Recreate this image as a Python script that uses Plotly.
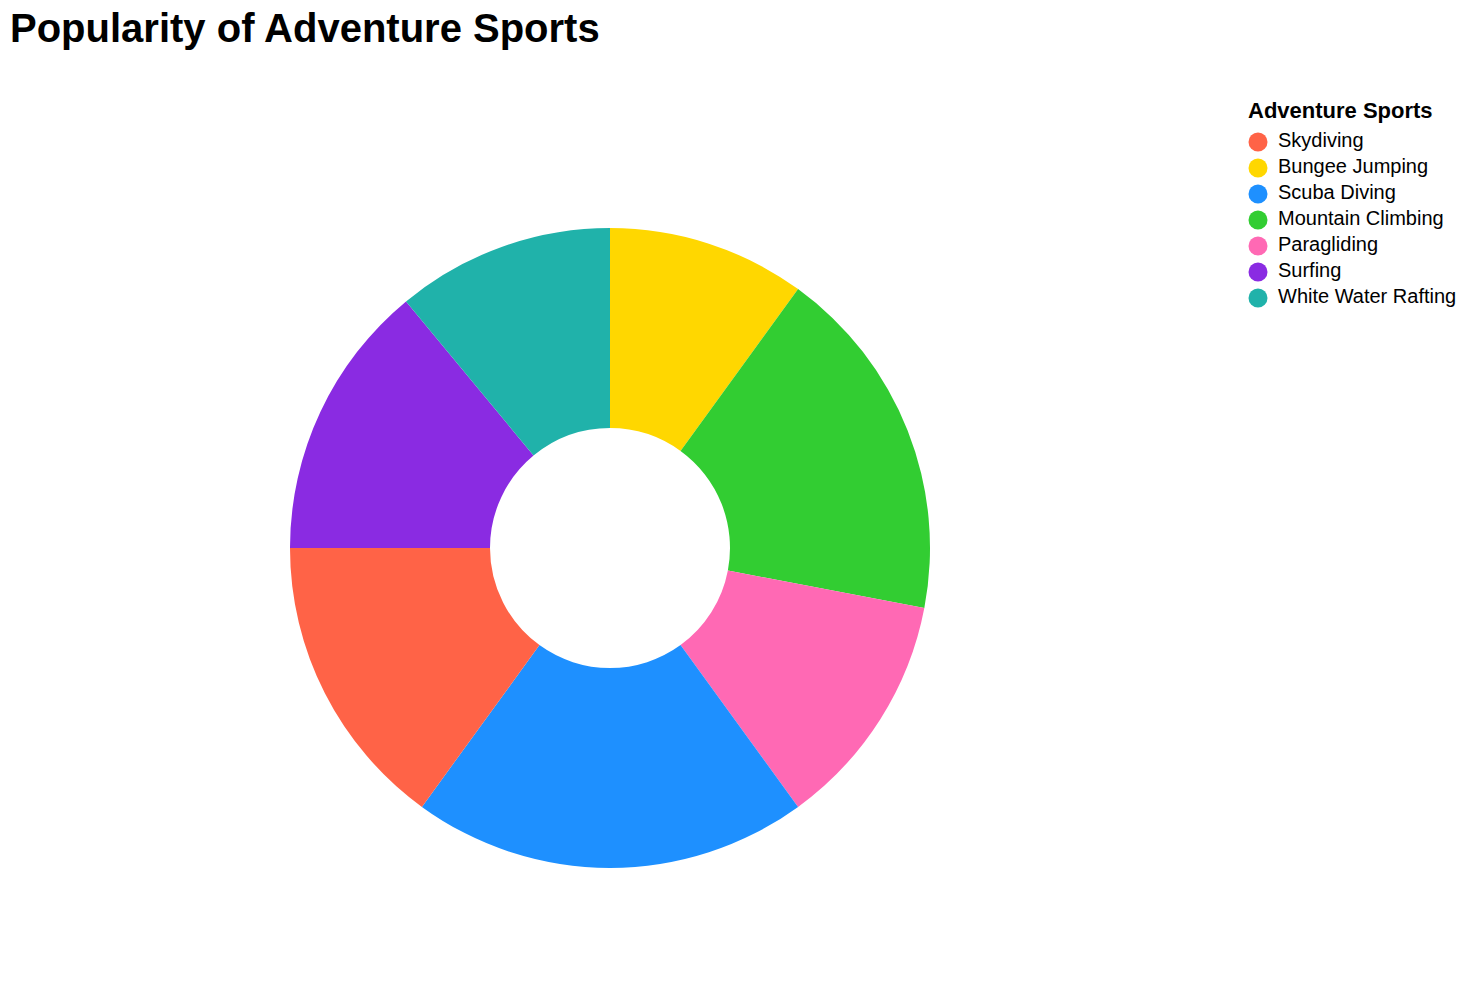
import plotly.graph_objects as go

# Data (legend order)
sports = ["Skydiving", "Bungee Jumping", "Scuba Diving", "Mountain Climbing",
          "Paragliding", "Surfing", "White Water Rafting"]
popularity = [15, 10, 20, 18, 12, 14, 11]
colors = ["#FF6347", "#FFD700", "#1E90FF", "#32CD32", "#FF69B4", "#8A2BE2", "#20B2AA"]

W, H = 1468, 1008
FONT = "Liberation Sans, Arial, Helvetica, sans-serif"

# Slices are stacked in alphabetical order, clockwise from 12 o'clock
order = sorted(range(len(sports)), key=lambda i: sports[i])
pie_labels = [sports[i] for i in order]
pie_values = [popularity[i] for i in order]
pie_colors = [colors[i] for i in order]

cx, cy, R = 610, 548, 320
dom_x = [(cx - R) / W, (cx + R) / W]
dom_y = [(H - cy - R) / H, (H - cy + R) / H]

fig = go.Figure()
fig.add_trace(go.Pie(
    labels=pie_labels, values=pie_values,
    marker=dict(colors=pie_colors, line=dict(width=0)),
    hole=0.375, sort=False, direction="clockwise", rotation=0,
    textinfo="none", showlegend=False,
    domain=dict(x=dom_x, y=dom_y),
))

# Legend drawn as a small categorical scatter (Vega-style circles)
n = len(sports)
row = 26  # px per legend row
top = 142 - row / 2
bot = top + row * n
leg_left, leg_right = 1248, 1468
fig.add_trace(go.Scatter(
    x=[0] * n, y=sports, mode="markers",
    marker=dict(color=colors, size=19, symbol="circle", line=dict(width=0)),
    xaxis="x2", yaxis="y2", showlegend=False, hoverinfo="skip",
))
fig.add_trace(go.Scatter(
    x=[20] * n, y=sports, mode="text", text=sports,
    textposition="middle right",
    textfont=dict(family=FONT, size=20, color="#000000"),
    xaxis="x2", yaxis="y2", showlegend=False, hoverinfo="skip",
))

fig.update_layout(
    width=W, height=H,
    margin=dict(l=0, r=0, t=0, b=0),
    paper_bgcolor="white", plot_bgcolor="rgba(0,0,0,0)",
    font=dict(family=FONT, color="#000000", size=20),
    title=dict(text="<b>Popularity of Adventure Sports</b>",
               font=dict(family=FONT, size=40, color="#000000"),
               xref="container", yref="container",
               x=10 / W, xanchor="left", y=1 - 28 / H, yanchor="middle"),
    xaxis2=dict(visible=False, domain=[leg_left / W, leg_right / W],
                range=[-10, leg_right - leg_left - 10], fixedrange=True),
    yaxis2=dict(visible=False, domain=[1 - bot / H, 1 - top / H],
                type="category", categoryorder="array", categoryarray=sports,
                range=[n - 0.5, -0.5], fixedrange=True, anchor="x2"),
    showlegend=False,
    annotations=[dict(
        text="<b>Adventure Sports</b>", xref="paper", yref="paper",
        x=leg_left / W, y=1 - 110 / H, xanchor="left", yanchor="middle",
        showarrow=False, font=dict(family=FONT, size=22, color="#000000"),
        xshift=-2,
    )],
)

fig.write_html("out.html")
